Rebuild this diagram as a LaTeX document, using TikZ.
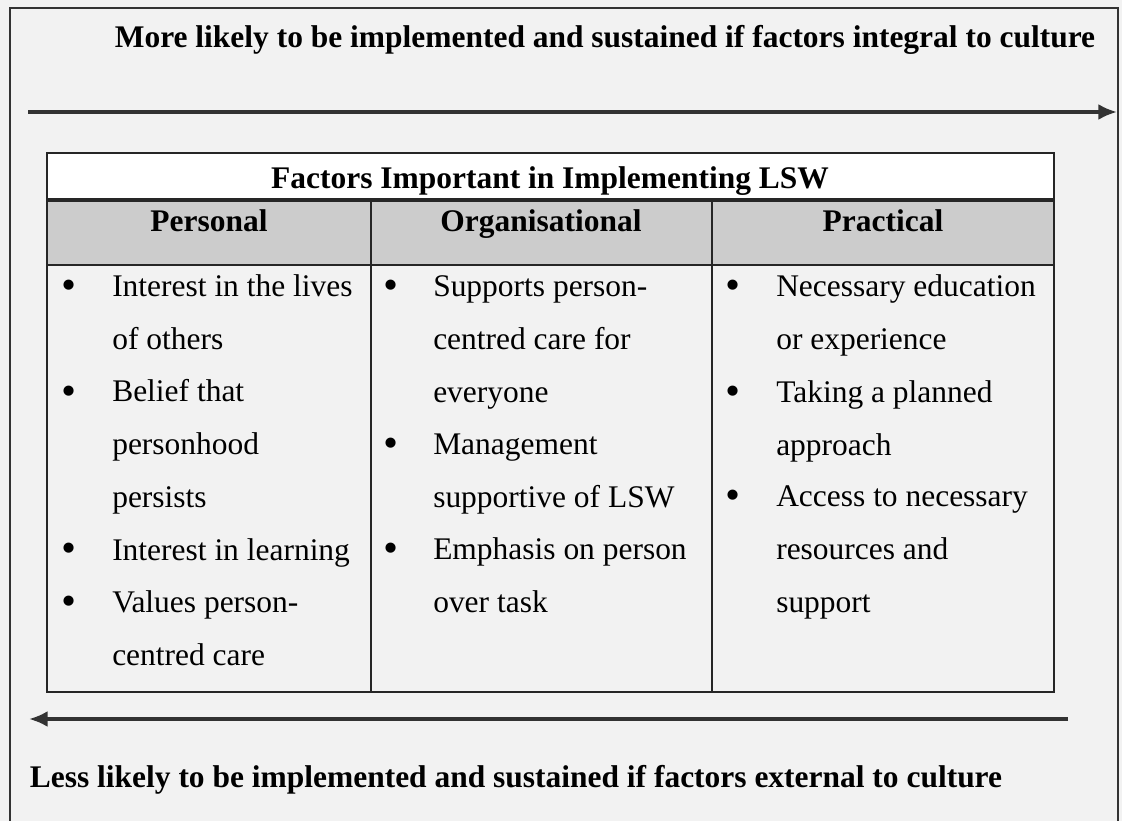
\documentclass[tikz,border=0pt]{standalone}
\usepackage{fontspec}
\setmainfont{Liberation Serif}
\usepackage{tikz}
\usetikzlibrary{calc,positioning,arrows,arrows.meta}
\newcommand{\lswfont}{\fontsize{23.6}{39.5}\selectfont}
\tikzset{
>=latex,
  frameline/.style={draw=black!80, line width=1pt},
  tableline/.style={draw=black!85, line width=2.2pt},
  flowarrow/.style={-{Latex[length=14pt,width=12pt]}, draw=black!80, line width=2.4pt},
  titletext/.style={
    anchor=base,
    inner sep=0pt,
    font=\lswfont\bfseries},
  headtext/.style={
    anchor=base,
    inner sep=0pt,
    font=\lswfont\bfseries},
  itemtext/.style={
    anchor=base west,
    inner sep=0pt,
    align=left,
    font=\lswfont},
  bulletmark/.style={
    anchor=base,
    inner sep=0pt,
    font=\fontsize{28}{30}\selectfont\bfseries},
}

\begin{document}
\begin{tikzpicture}[x=0.75pt, y=-0.75pt]

    % page, scanned look
    \fill[gray!10] (0,0) rectangle (1122,821);
    \useasboundingbox (0,0) rectangle (1122,821);

    % outer frame
    \draw[frameline] (10,823) -- (10,8) -- (1118,8) -- (1118,823);

    % arrows
    \coordinate (moreS) at (28,112);
    \coordinate (moreE) at (1117,112);
    \draw[flowarrow] (moreS) -- (moreE);

    \coordinate (lessS) at (1068,719);
    \coordinate (lessE) at (29,719);
    \draw[flowarrow] (lessS) -- (lessE);

    \node[titletext] (moreT) at (605,47) {More likely to be implemented and sustained if factors integral to culture};
    \node[titletext] (lessT) at (516,787) {Less likely to be implemented and sustained if factors external to culture};

    % table
    \fill[white] (47,153) rectangle (1054,200);
    \fill[gray!40] (47,200) rectangle (1054,265);
    \draw[tableline] (47,153) rectangle (1054,692);
    \draw[draw=black!85, line width=3.2pt] (47,200) -- (1054,200);
    \draw[tableline] (47,265) -- (1054,265);
    \draw[tableline] (371,200) -- (371,692);
    \draw[tableline] (712,200) -- (712,692);

    \node[titletext] (tabT) at (550,188) {Factors Important in Implementing LSW};

    \node[headtext] (hPer) at (209,231) {Personal};
    \node[headtext] (hOrg) at (541,231) {Organisational};
    \node[headtext] (hPra) at (883,231) {Practical};

    % personal (a node sits on its last line)
    \node[itemtext] (per1) at (112,349) {Interest in the lives\\of others};
    \node[itemtext] (per2) at (112,507) {Belief that\\personhood\\persists};
    \node[itemtext] (per3) at (112,560) {Interest in learning};
    \node[itemtext] (per4) at (112,665) {Values person-\\centred care};
    \foreach \n/\y in {bper1/297, bper2/403, bper3/560, bper4/613}
        \node[bulletmark] (\n) at (69,\y) {•};

    % organisational
    \node[itemtext] (org1) at (433,402) {Supports person-\\centred care for\\everyone};
    \node[itemtext] (org2) at (433,507) {Management\\supportive of LSW};
    \node[itemtext] (org3) at (433,612) {Emphasis on person\\over task};
    \foreach \n/\y in {borg1/297, borg2/455, borg3/560}
        \node[bulletmark] (\n) at (391,\y) {•};

    % practical
    \node[itemtext] (pra1) at (776,349) {Necessary education\\or experience};
    \node[itemtext] (pra2) at (776,455) {Taking a planned\\approach};
    \node[itemtext] (pra3) at (776,612) {Access to necessary\\resources and\\support};
    \foreach \n/\y in {bpra1/297, bpra2/403, bpra3/507}
        \node[bulletmark] (\n) at (733,\y) {•};

\end{tikzpicture}
\end{document}
